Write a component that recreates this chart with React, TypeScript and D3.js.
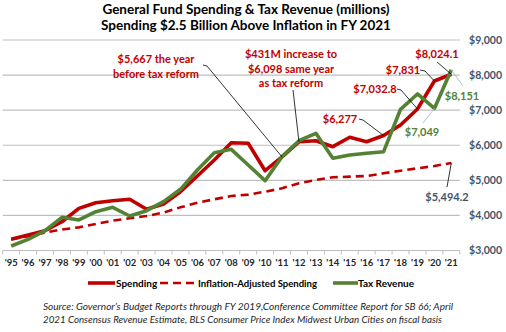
import React from 'react';
import * as d3 from 'd3';

const years = ["'95","'96","'97","'98","'99","'00","'01","'02","'03","'04","'05","'06","'07","'08","'09","'10","'11","'12","'13","'14","'15","'16","'17","'18","'19","'20","'21"];
const spending = [3320,3440,3565,3820,4200,4363,4420,4460,4174,4326,4676,5124,5580,6073,6055,5275,5667,6098,6130,5959,6227,6101,6277,6578,7032.8,7831,8024.1];
const inflationAdj = [3320,3410,3510,3600,3660,3755,3850,3918,3983,4080,4230,4363,4460,4553,4592,4676,4772,4920,5010,5086,5105,5124,5200,5275,5343,5409,5494.2];
const taxRevenue = [3128,3319,3565,3946,3870,4106,4230,3983,4135,4392,4744,5295,5788,5884,5437,4990,5675,6130,6341,5628,5722,5770,5817,7025,7461,7049,8151];
const yTicks = [3000,4000,5000,6000,7000,8000,9000];

const RED = '#C00000';
const GREEN = '#548235';
const SLATE = '#44546A';
const FONT = 'Lato, "Open Sans", sans-serif';

export default function App() {
  const W = 506, H = 332;
  const x = d3.scaleBand<string>().domain(years).range([2.7, 459.8]).padding(0);
  const bw = x.bandwidth();
  const cx = (i: number) => (x(years[i]) as number) + bw / 2;
  const y = d3.scaleLinear().domain([3000, 9000]).range([250.5, 40]);
  const line = d3.line<number>().x((_, i) => cx(i)).y(d => y(d));
  const fmt = (v: number) => '$' + d3.format(',')(v);

  const idx = (lab: string) => years.indexOf(lab);
  const pt = (arr: number[], lab: string): [number, number] => [cx(idx(lab)), y(arr[idx(lab)])];

  const p11 = pt(spending, "'11");
  const p12 = pt(spending, "'12");
  const p17 = pt(spending, "'17");
  const p19 = pt(spending, "'19");
  const p20 = pt(spending, "'20");
  const p21 = pt(spending, "'21");
  const g20 = pt(taxRevenue, "'20");
  const g21 = pt(taxRevenue, "'21");
  const d21 = pt(inflationAdj, "'21");

  const boundaries = years.map(v => x(v) as number).concat([(x(years[years.length - 1]) as number) + bw]);

  return (
    <svg width={W} height={H} style={{ position: 'absolute', left: 0, top: 0, background: '#fff' }} fontFamily={FONT}>
      <text x={246} y={14} textAnchor="middle" fontWeight={700} fontSize={13.5} fill="#000">General Fund Spending &amp; Tax Revenue (millions)</text>
      <text x={246} y={30} textAnchor="middle" fontWeight={700} fontSize={13.5} fill="#000">Spending $2.5 Billion Above Inflation in FY 2021</text>

      {yTicks.map(t => (
        <g key={t}>
          <line x1={2.7} x2={459.8} y1={y(t)} y2={y(t)} stroke="#BFBFBF" strokeWidth={1.2} />
          <text x={502} y={y(t) + 3.5} textAnchor="end" fontWeight={700} fontSize={10.5} fill={SLATE}>{fmt(t)}</text>
        </g>
      ))}
      {boundaries.map((b, i) => (
        <line key={i} x1={b} x2={b} y1={y(3000)} y2={y(3000) + 4} stroke="#BFBFBF" strokeWidth={1} />
      ))}
      {years.map((lab, i) => (
        <text key={lab} x={cx(i)} y={266} textAnchor="middle" fontWeight={700} fontSize={9.5} fill="#262626">{lab}</text>
      ))}

      <path d={line(inflationAdj) || ''} fill="none" stroke={RED} strokeWidth={2.6} strokeDasharray="8 5" />
      <path d={line(spending) || ''} fill="none" stroke={RED} strokeWidth={3.6} strokeLinejoin="round" />
      <path d={line(taxRevenue) || ''} fill="none" stroke={GREEN} strokeWidth={3.6} strokeLinejoin="round" />

      {/* annotations */}
      <g fontWeight={700} fontSize={11} fill={RED} textAnchor="middle">
        <text x={156} y={63}>$5,667 the year</text>
        <text x={156} y={78}>before tax reform</text>
        <text x={291} y={58}>$431M increase to</text>
        <text x={291} y={73}>$6,098 same year</text>
        <text x={291} y={87}>as tax reform</text>
        <text x={340} y={123}>{fmt(spending[idx("'17")])}</text>
        <text x={375} y={93}>{'$' + d3.format(',.1f')(spending[idx("'19")])}</text>
        <text x={403} y={74}>{fmt(spending[idx("'20")])}</text>
        <text x={437} y={58}>{'$' + d3.format(',.1f')(spending[idx("'21")])}</text>
      </g>
      <g fontWeight={700} fontSize={11} fill={GREEN} textAnchor="middle">
        <text x={462} y={100}>{fmt(taxRevenue[idx("'21")])}</text>
        <text x={422} y={136}>{fmt(taxRevenue[idx("'20")])}</text>
      </g>
      <text x={447} y={201} textAnchor="middle" fontWeight={700} fontSize={11} fill={SLATE}>{'$' + d3.format(',.1f')(inflationAdj[idx("'21")])}</text>

      <g fill="none" stroke="#000" strokeWidth={0.8}>
        <polyline points={`203,65 207,66 ${p11[0]},${p11[1]}`} />
        <polyline points={`293,90 ${p12[0]},${p12[1]}`} />
        <polyline points={`359,119 363,120 ${p17[0]},${p17[1]}`} />
        <polyline points={`397,89 401,90 ${p19[0]},${p19[1]}`} />
        <polyline points={`420,70 425,71 ${p20[0]},${p20[1]}`} />
        <polyline points={`437,62 ${p21[0]},${p21[1]}`} />
        <polyline points={`447,187 ${d21[0]},${d21[1]}`} />
      </g>
      <g fill="none" stroke="#A9BCD0" strokeWidth={0.9}>
        <polyline points={`${g21[0]},${g21[1]} 463,86`} />
        <polyline points={`423,123 ${g20[0]},${g20[1]}`} />
      </g>

      {/* legend */}
      <g fontWeight={700} fontSize={10} fill="#000">
        <line x1={88} x2={115} y1={283} y2={283} stroke={RED} strokeWidth={3.6} />
        <text x={116} y={286.5}>Spending</text>
        <line x1={160} x2={197} y1={283} y2={283} stroke={RED} strokeWidth={2.6} strokeDasharray="8 5" />
        <text x={198} y={286.5} textLength={119} lengthAdjust="spacingAndGlyphs">Inflation-Adjusted Spending</text>
        <line x1={333} x2={358} y1={283} y2={283} stroke={GREEN} strokeWidth={3.6} />
        <text x={358} y={286.5}>Tax Revenue</text>
      </g>

      <g fontStyle="italic" fontSize={9.8} fill="#262626">
        <text x={43} y={310} textLength={410} lengthAdjust="spacingAndGlyphs">Source: Governor’s Budget Reports through FY 2019,Conference Committee Report for SB 66; April</text>
        <text x={43} y={322.5} textLength={399} lengthAdjust="spacingAndGlyphs">2021 Consensus Revenue Estimate, BLS Consumer Price Index Midwest Urban Cities on fiscal basis</text>
      </g>
    </svg>
  );
}
